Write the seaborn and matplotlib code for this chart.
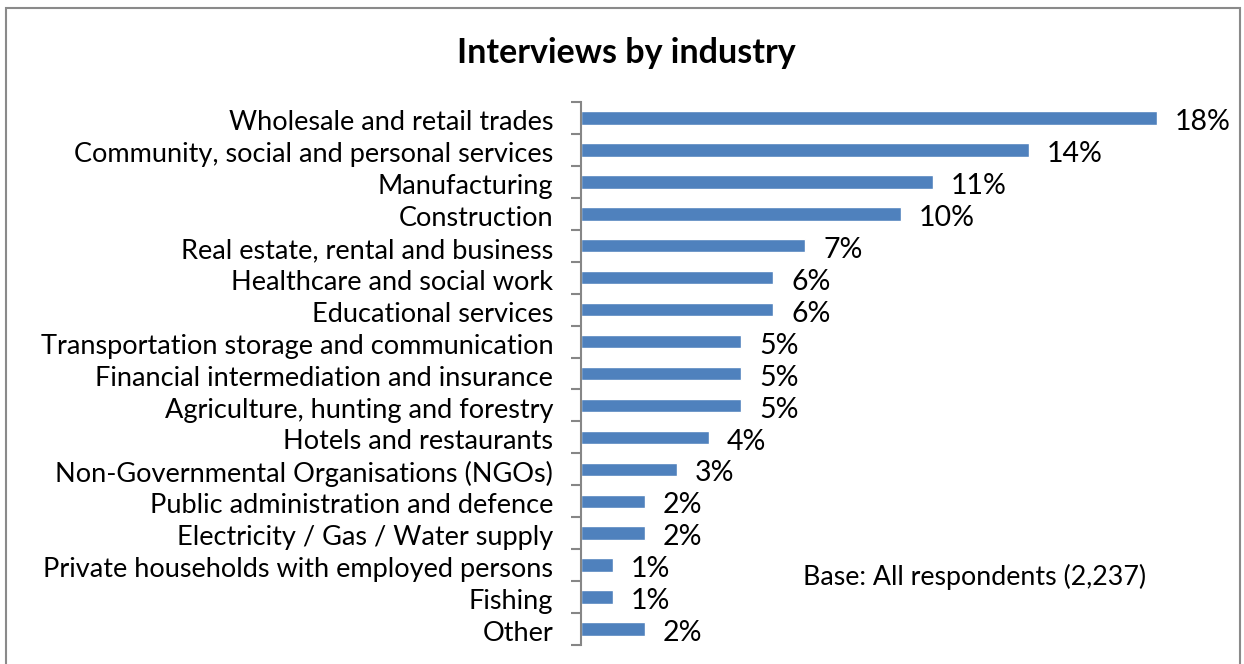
import seaborn as sns
import pandas as pd
import numpy as np
import matplotlib.pyplot as plt
from matplotlib.patches import Rectangle
from matplotlib.ticker import FixedLocator
from matplotlib.transforms import ScaledTranslation

industries = ['Wholesale and retail trades',
              'Community, social and personal services',
              'Manufacturing',
              'Construction',
              'Real estate, rental and business',
              'Healthcare and social work',
              'Educational services',
              'Transportation storage and communication',
              'Financial intermediation and insurance',
              'Agriculture, hunting and forestry',
              'Hotels and restaurants',
              'Non-Governmental Organisations (NGOs)',
              'Public administration and defence',
              'Electricity / Gas / Water supply',
              'Private households with employed persons',
              'Fishing',
              'Other']
shares = [18, 14, 11, 10, 7, 6, 6, 5, 5, 5, 4, 3, 2, 2, 1, 1, 2]

df = pd.DataFrame({'industry': industries, 'share': shares})

sns.set_theme(style='white')
plt.rcParams['font.family'] = ['Lato', 'DejaVu Sans']
plt.rcParams['text.color'] = 'black'

fig = plt.figure(figsize=(12.44, 6.64), dpi=100)
ax = fig.add_axes([581/1244, 1 - 645/664, (1221 - 581)/1244, (645 - 102)/664])

sns.barplot(data=df, x='share', y='industry', orient='h', color='#4F81BD',
            width=0.42, saturation=1, ax=ax)

ax.set_xlim(0, 20)
ax.set_ylim(len(industries) - 0.5, -0.5)
ax.set_xlabel('')
ax.set_ylabel('')
ax.set_xticks([])
for s in ['top', 'right', 'bottom']:
    ax.spines[s].set_visible(False)
ax.spines['left'].set_color('#868686')
ax.spines['left'].set_linewidth(1.5)

# ticks between categories, labels centred
ax.yaxis.set_minor_locator(FixedLocator(np.arange(-0.5, len(industries), 1)))
ax.tick_params(axis='y', which='major', length=0, pad=20, labelsize=19.5,
               labelcolor='black')
ax.tick_params(axis='y', which='minor', length=7, width=1.5, color='#868686',
               direction='out', left=True)
shift = ScaledTranslation(0, -1.5/72, fig.dpi_scale_trans)
for lab in ax.get_yticklabels():
    lab.set_transform(lab.get_transform() + shift)

for i, v in enumerate(shares):
    ax.annotate(f'{v}%', (v, i), xytext=(13, -3), textcoords='offset points',
                ha='left', va='center', fontsize=20.5, color='black')

fig.text(626/1244, 1 - 53/664, 'Interviews by industry', ha='center', va='center',
         fontsize=24.5, fontweight='bold', color='black')
fig.text(803/1244, 1 - 577/664, 'Base: All respondents (2,237)', ha='left',
         va='center', fontsize=19.3, color='black')

fig.patches.append(Rectangle((6/1244, -0.1), (1240 - 6)/1244, 1.1 - 8/664,
                             transform=fig.transFigure, fill=False,
                             edgecolor='#8a8a8a', linewidth=1.5))

fig.savefig('out.png', dpi=100)
